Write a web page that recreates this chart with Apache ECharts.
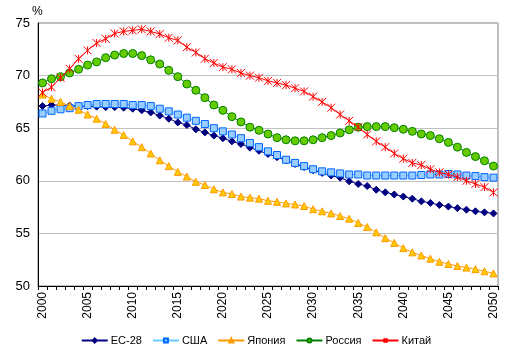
<!DOCTYPE html>
<html><head><meta charset="utf-8">
<script src="https://cdn.jsdelivr.net/npm/echarts@6/dist/echarts.min.js"></script>
<style>html,body{margin:0;padding:0;background:#fff}#c{width:512px;height:357px}</style>
</head><body><div id="c"></div>
<script>
const years = ["2000","2001","2002","2003","2004","2005","2006","2007","2008","2009","2010","2011","2012","2013","2014","2015","2016","2017","2018","2019","2020","2021","2022","2023","2024","2025","2026","2027","2028","2029","2030","2031","2032","2033","2034","2035","2036","2037","2038","2039","2040","2041","2042","2043","2044","2045","2046","2047","2048","2049","2050"];
const eu = [67.1,67.2,67.2,67.15,67.1,67.1,67.05,67.0,67.0,66.95,66.85,66.7,66.5,66.2,65.9,65.55,65.3,64.9,64.6,64.3,64.05,63.75,63.5,63.15,62.85,62.55,62.25,61.95,61.6,61.3,61.0,60.75,60.5,60.3,59.95,59.7,59.5,59.15,58.9,58.7,58.5,58.3,58.05,57.9,57.7,57.55,57.4,57.25,57.1,57.0,56.9];
const usa = [66.4,66.65,66.8,66.9,67.1,67.2,67.3,67.3,67.3,67.3,67.2,67.2,67.1,66.85,66.6,66.3,66.0,65.7,65.4,65.0,64.7,64.4,64.05,63.6,63.2,62.8,62.45,62.0,61.7,61.4,61.1,60.9,60.8,60.7,60.6,60.6,60.5,60.5,60.5,60.5,60.5,60.5,60.55,60.6,60.6,60.65,60.6,60.5,60.45,60.35,60.3];
const japan = [68.2,67.8,67.5,67.1,66.75,66.3,65.9,65.4,64.85,64.35,63.75,63.2,62.6,61.95,61.4,60.85,60.4,59.9,59.6,59.2,58.9,58.75,58.5,58.4,58.3,58.1,58.0,57.85,57.75,57.6,57.3,57.1,56.9,56.65,56.4,56.0,55.6,55.1,54.55,54.1,53.6,53.2,52.9,52.6,52.3,52.1,51.9,51.75,51.6,51.4,51.2];
const russia = [69.3,69.7,69.9,70.25,70.6,71.0,71.3,71.7,71.95,72.1,72.1,71.9,71.5,71.1,70.5,69.9,69.2,68.6,67.9,67.2,66.7,66.1,65.6,65.1,64.8,64.45,64.1,63.9,63.8,63.8,63.9,64.1,64.3,64.55,64.85,65.1,65.15,65.15,65.15,65.05,64.9,64.7,64.45,64.3,64.0,63.65,63.2,62.7,62.3,61.9,61.4];
const china = [68.4,68.9,69.8,70.65,71.6,72.4,73.1,73.5,74.0,74.2,74.3,74.4,74.2,73.95,73.6,73.35,72.7,72.2,71.6,71.2,70.8,70.6,70.25,70.0,69.8,69.5,69.3,69.1,68.8,68.5,68.0,67.5,66.95,66.3,65.7,65.1,64.4,63.75,63.2,62.6,62.1,61.7,61.5,61.1,60.8,60.6,60.35,60.0,59.7,59.4,58.9];
const names = ["ЕС-28","США","Япония","Россия","Китай"];

const font = "'Liberation Sans', Arial, sans-serif";
const chart = echarts.init(document.getElementById('c'), null, {renderer:'canvas'});
const star = 'path://M0,0L10,10M10,0L0,10M5,0L5,10';
function mk(name, data, color, symbol, size, fill, border, z) {
  return {name, type:'line', data, symbol, symbolSize:size, showSymbol:true, showAllSymbol:true, z,
    lineStyle:{color, width:1}, itemStyle:{color:fill, borderColor:border, borderWidth:1},
    emphasis:{disabled:true}, animation:false};
}
chart.setOption({
  animation:false,
  textStyle:{fontFamily:font},
  grid:{left:38, right:14, top:23, bottom:71, show:true, borderColor:'#808080', borderWidth:1, backgroundColor:'transparent'},
  graphic:[{type:'text', left:32, top:6, style:{text:'%', font:'12px '+font, fill:'#000'}}],
  legend:{bottom:6, left:'center', itemWidth:26, itemHeight:5, itemGap:10,
    textStyle:{fontSize:11, color:'#000', fontFamily:font, padding:[0,0,0,-2]},
    data:names},
  xAxis:{type:'category', data:years, boundaryGap:true,
    axisLine:{lineStyle:{color:'#000', width:1}},
    axisTick:{show:true, interval:0, length:4, lineStyle:{color:'#000'}},
    axisLabel:{interval:4, rotate:90, fontSize:12, color:'#000', margin:6, fontFamily:font},
    splitLine:{show:false}},
  yAxis:{type:'value', min:50, max:75, interval:5,
    axisLine:{show:true, lineStyle:{color:'#000', width:1}},
    axisTick:{show:false},
    axisLabel:{fontSize:13, color:'#000', margin:8, fontFamily:font},
    splitLine:{lineStyle:{color:'#C0C0C0', width:1}}},
  series:[
    mk(names[0], eu, '#000080', 'diamond', 7, '#000080', '#000080', 1),
    mk(names[1], usa, '#66CCFF', 'rect', 7, '#99CCFF', '#0066FF', 2),
    mk(names[2], japan, '#FF9900', 'triangle', 7, '#FFCC00', '#FF9900', 3),
    mk(names[3], russia, '#008000', 'circle', 8, '#66CC00', '#008000', 4),
    mk(names[4], china, '#FF0000', star, 8, 'rgba(0,0,0,0)', '#FF0000', 5)
  ]
});
</script></body></html>
